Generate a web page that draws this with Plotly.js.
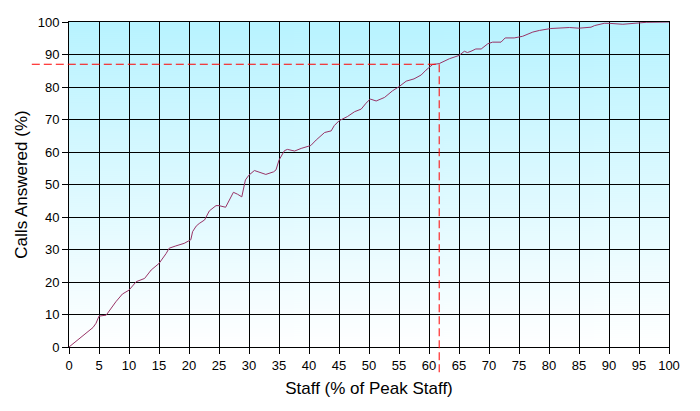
<!DOCTYPE html>
<html>
<head>
<meta charset="utf-8">
<script src="https://cdn.plot.ly/plotly-3.0.1.min.js"></script>
<style>html,body{margin:0;padding:0;background:#fff;}#chart{width:700px;height:411px;}</style>
</head>
<body>
<div id="chart"></div>
<script>
// Data
const staffPct = [0, 4, 4.5, 5, 6.2, 6.7, 7.8, 8.9, 10, 11.2, 12.6, 13.7, 15, 16.2, 16.7, 17.8, 19.2, 20.3, 20.6, 21.2, 21.7, 22.6, 23.4, 24.5, 25, 26.1, 26.7, 27.4, 28.1, 28.8, 29.4, 30, 30.9, 31.7, 32.8, 34.1, 34.5, 35, 35.9, 36.4, 37.6, 38.7, 40.3, 41.2, 42.6, 43.7, 44.2, 45, 46.4, 47.6, 48.7, 49.5, 50.2, 51.2, 52.6, 53.9, 55, 56.2, 57.5, 58.7, 59.5, 60.6, 61.7, 63.4, 65, 65.9, 66.4, 67, 67.8, 68.7, 69.8, 70.6, 72, 72.7, 74.2, 75.6, 77.3, 78.4, 80.3, 83.4, 85, 87, 87.6, 89.2, 90, 92.3, 94, 96.2, 100];
const callsAnswered = [0, 6, 7.3, 9.5, 9.8, 11.2, 13.9, 16.3, 17.5, 20.1, 21.1, 23.7, 25.7, 28.8, 30.4, 31.1, 31.9, 33, 35.5, 37.2, 38, 39.1, 41.9, 43.5, 43.5, 43, 45.2, 47.6, 47, 46.2, 51.4, 52.9, 54.3, 53.7, 53.1, 53.9, 54.5, 57.5, 60.4, 60.8, 60.3, 61.1, 62, 63.7, 66, 66.5, 68.1, 69.6, 70.9, 72.4, 73.2, 75, 76.3, 75.7, 76.8, 78.8, 80.1, 81.8, 82.5, 83.7, 85.2, 86.9, 87.2, 88.7, 89.7, 91, 90.6, 91, 91.7, 91.7, 93.3, 93.8, 93.8, 95.1, 95.1, 95.6, 96.9, 97.4, 98, 98.3, 98.1, 98.4, 98.9, 99.6, 99.6, 99.3, 99.6, 99.9, 100];
const targetStaff = 61.7;
const targetCalls = 87;
const xTicks = [0,5,10,15,20,25,30,35,40,45,50,55,60,65,70,75,80,85,90,95,100];
const yTicks = [0,10,20,30,40,50,60,70,80,90,100];

// Gradient background image (cyan top -> white bottom)
const cv = document.createElement('canvas');
cv.width = 4; cv.height = 325;
const ctx = cv.getContext('2d');
const g = ctx.createLinearGradient(0, 0, 0, 325);
g.addColorStop(0, 'rgb(184,243,255)');
g.addColorStop(1, 'rgb(255,255,255)');
ctx.fillStyle = g; ctx.fillRect(0, 0, 4, 325);
const bgURL = cv.toDataURL();

const font = 'Arial, "Liberation Sans", sans-serif';

const trace = {
  x: staffPct, y: callsAnswered, type: 'scatter', mode: 'lines',
  line: {color: '#993366', width: 1}, hoverinfo: 'x+y'
};

const layout = {
  width: 700, height: 411,
  margin: {l: 69, r: 31, t: 22, b: 64},
  paper_bgcolor: '#ffffff', plot_bgcolor: 'rgba(0,0,0,0)',
  showlegend: false,
  font: {family: font, color: '#000', size: 13},
  xaxis: {
    range: [0, 100], tickvals: xTicks, ticktext: xTicks.map(String),
    showgrid: true, gridcolor: '#000', gridwidth: 1,
    showline: true, linecolor: '#000', linewidth: 1, mirror: true,
    ticks: 'outside', ticklen: 6, tickcolor: '#000', tickwidth: 1,
    tickfont: {family: font, size: 13, color: '#000'},
    zeroline: false, fixedrange: true,
    title: {text: 'Staff (% of Peak Staff)', font: {family: font, size: 17, color: '#000'}, standoff: 10}
  },
  yaxis: {
    range: [0, 100], tickvals: yTicks, ticktext: yTicks.map(String),
    showgrid: true, gridcolor: '#000', gridwidth: 1,
    showline: true, linecolor: '#000', linewidth: 1, mirror: true,
    ticks: 'outside', ticklen: 6, tickcolor: '#000', tickwidth: 1,
    tickfont: {family: font, size: 13, color: '#000'},
    zeroline: false, fixedrange: true,
    title: {text: 'Calls Answered (%)', font: {family: font, size: 17, color: '#000'}, standoff: 5}
  },
  images: [{
    source: bgURL, xref: 'paper', yref: 'paper', x: 0, y: 1,
    sizex: 1, sizey: 1, sizing: 'stretch', layer: 'below', xanchor: 'left', yanchor: 'top'
  }],
  shapes: [
    {type: 'line', xref: 'paper', yref: 'y', x0: -0.062, x1: targetStaff / 100, y0: targetCalls, y1: targetCalls,
     line: {color: '#ff0000', width: 1, dash: '8px,4px'}, layer: 'above'},
    {type: 'line', xref: 'x', yref: 'paper', x0: targetStaff, x1: targetStaff, y0: targetCalls / 100, y1: -0.08,
     line: {color: '#ff0000', width: 1, dash: '8px,4px'}, layer: 'above'}
  ]
};

Plotly.newPlot('chart', [trace], layout, {displayModeBar: false, staticPlot: true});
</script>
</body>
</html>
